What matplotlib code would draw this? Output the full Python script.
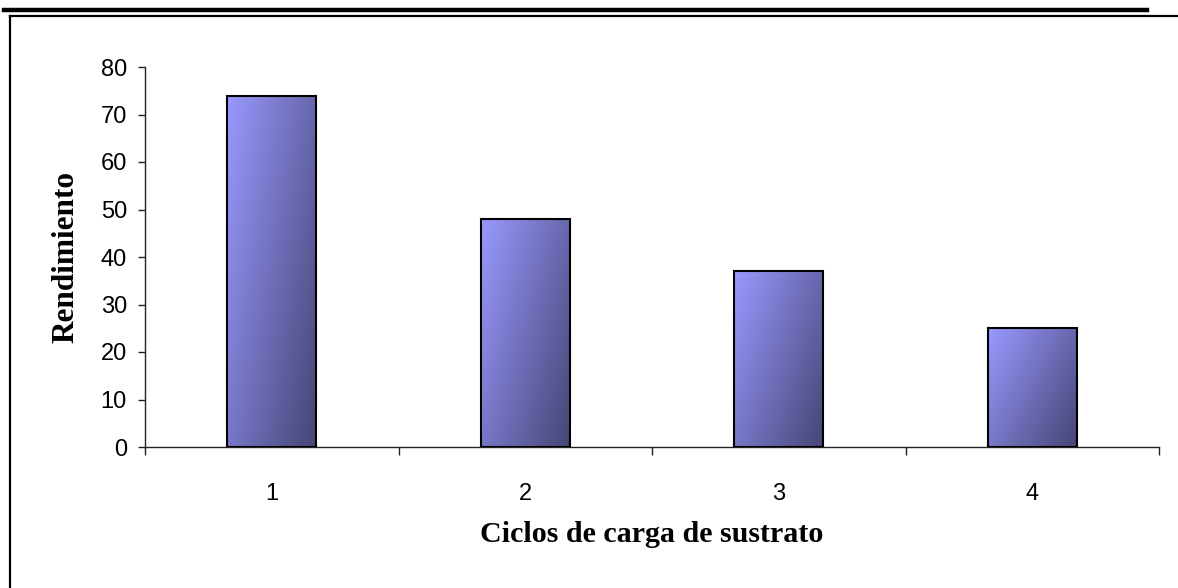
import numpy as np
import matplotlib.pyplot as plt
from matplotlib.lines import Line2D

# Datos
ciclos = ['1', '2', '3', '4']
rendimiento = [74, 48, 37, 25]
yticks = [0, 10, 20, 30, 40, 50, 60, 70, 80]

W, H = 1178, 588
fig = plt.figure(figsize=(W / 100, H / 100), dpi=100)
fig.patch.set_facecolor('white')

# Marco del documento (linea gruesa superior + recuadro)
fig.add_artist(Line2D([4 / W, 1147 / W], [1 - 10 / H, 1 - 10 / H], color='black', lw=3.2))
fig.add_artist(Line2D([10 / W, 1], [1 - 16 / H, 1 - 16 / H], color='black', lw=1.6))
fig.add_artist(Line2D([10 / W, 10 / W], [0, 1 - 16 / H], color='black', lw=1.6))

ax = fig.add_axes([145 / W, (H - 447) / H, (1159 - 145) / W, (447 - 67) / H])

# Gradiente diagonal para cada barra (claro arriba-izq, oscuro abajo-der)
light = np.array([153, 153, 255]) / 255
dark = np.array([70, 70, 118]) / 255
n = 100
xf = np.linspace(0, 1, n)[None, :]
yf = np.linspace(1, 0, n)[:, None]  # fila 0 = arriba
t = np.clip(0.6 * xf + 0.4 * (1 - yf), 0, 1)
grad = light[None, None, :] + t[:, :, None] * (dark - light)[None, None, :]

ancho = 0.35
xs = np.arange(1, len(ciclos) + 1)
for x, v in zip(xs, rendimiento):
    ax.imshow(grad, extent=[x - ancho / 2, x + ancho / 2, 0, v],
              aspect='auto', zorder=2, interpolation='bilinear')
ax.bar(xs, rendimiento, width=ancho, facecolor='none', edgecolor='black',
       linewidth=1.5, zorder=3)

ax.set_xlim(0.5, len(ciclos) + 0.5)
ax.set_ylim(0, 80)

for s in ['top', 'right']:
    ax.spines[s].set_visible(False)
for s in ['left', 'bottom']:
    ax.spines[s].set_linewidth(1.0)
    ax.spines[s].set_color('#222222')

ax.set_yticks(yticks)
ax.tick_params(axis='y', direction='out', length=5, width=1, pad=8,
               labelsize=17, color='#222222')
ax.set_xticks(xs)
ax.set_xticklabels(ciclos)
ax.tick_params(axis='x', which='major', length=0, pad=26, labelsize=17)
ax.set_xticks(np.arange(0.5, len(ciclos) + 1, 1), minor=True)
ax.tick_params(axis='x', which='minor', direction='out', length=6, width=1,
               color='#222222')
for lab in ax.get_xticklabels() + ax.get_yticklabels():
    lab.set_fontfamily('Liberation Sans')

ax.set_xlabel('Ciclos de carga de sustrato', fontfamily='Liberation Serif',
              fontweight='bold', fontsize=21.6, va='center')
ax.xaxis.set_label_coords(0.5, -88 / 380)
ax.set_ylabel('Rendimiento', fontfamily='Liberation Serif',
              fontweight='bold', fontsize=22.5, va='center')
ax.yaxis.set_label_coords(-79 / 1014, 0.5)

fig.savefig('out.png', dpi=100)
